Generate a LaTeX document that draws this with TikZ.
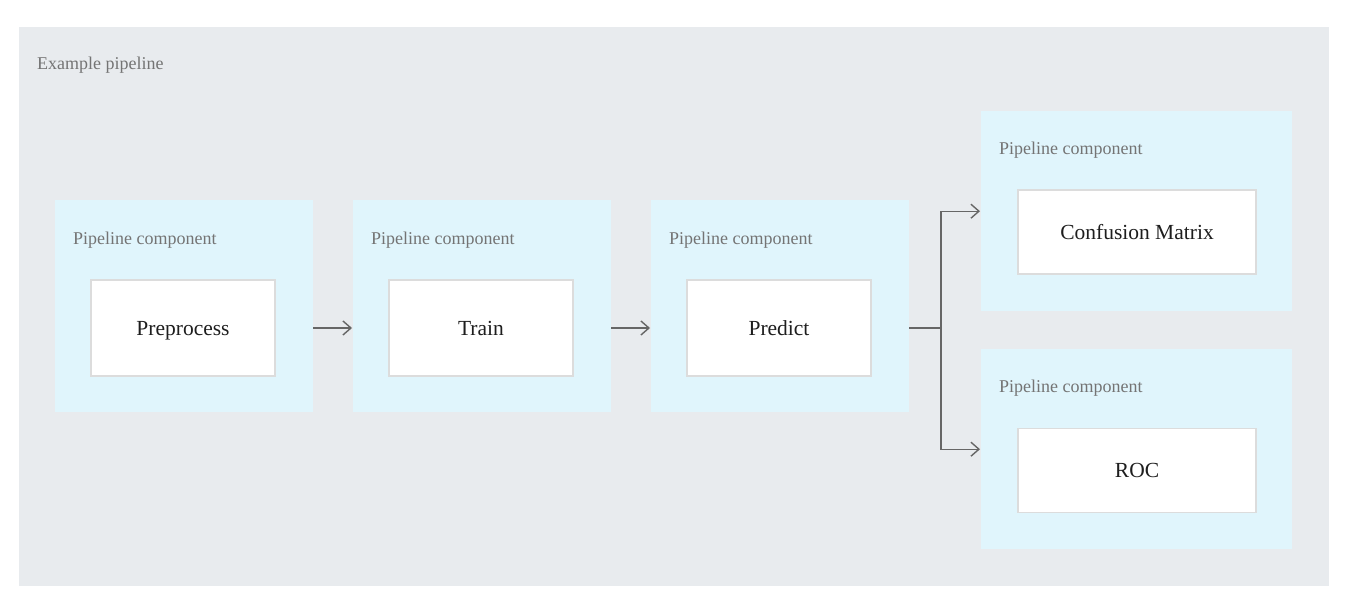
\documentclass[tikz,border=0pt]{standalone}
\usepackage{fontspec}
\setmainfont{Liberation Serif}
\usetikzlibrary{positioning,arrows.meta}
\definecolor{pipebg}{HTML}{E8EBEE}
\definecolor{compbg}{HTML}{E0F5FC}
\definecolor{stepedge}{HTML}{DCDCDC}
\definecolor{labelgray}{HTML}{747474}
\definecolor{flowgray}{HTML}{666666}
\definecolor{steptext}{HTML}{1E1E1E}

\begin{document}
\begin{tikzpicture}[x=1pt, y=-1pt,
        flow/.style={draw=flowgray, line width=1.4pt},
        arr/.style={flow, -{Straight Barb[length=8pt,width=14pt]}, shorten >=1pt}]
      \tikzstyle{frame} = [fill=pipebg, inner sep=0pt, anchor=north west]
      \tikzstyle{comp} = [fill=compbg, inner sep=0pt, anchor=north west,
                          minimum width=258pt, minimum height=212pt]
      \tikzstyle{wide comp} = [comp, minimum width=311pt, minimum height=200pt]
      \tikzstyle{tag} = [font=\fontsize{18}{20}\selectfont, text=labelgray,
                         inner sep=0pt, anchor=base west]
      \tikzstyle{stepbox} = [fill=white, draw=stepedge, line width=1.2pt,
                             font=\fontsize{21.5}{24}\selectfont, text=steptext,
                             text height=14.2pt, text depth=0pt,
                             minimum width=184pt, minimum height=96pt]
      \tikzstyle{wide stepbox} = [stepbox, minimum width=238pt, minimum height=84pt]
      \useasboundingbox (0,0) rectangle (1348,602);
      \node (pipeline) [frame, minimum width=1310pt, minimum height=559pt] at (19,27) {};
      \node (title) [tag] at (37,70) {Example pipeline};
      \node (comp1) [comp] at (55,200) {};
      \node (comp2) [comp] at (353,200) {};
      \node (comp3) [comp] at (651,200) {};
      \node (comp4) [wide comp] at (981,111) {};
      \node (comp5) [wide comp] at (981,349) {};
      \node (tag1) [tag] at (73,244) {Pipeline component};
      \node (tag2) [tag] at (371,244) {Pipeline component};
      \node (tag3) [tag] at (669,244) {Pipeline component};
      \node (tag4) [tag] at (999,154) {Pipeline component};
      \node (tag5) [tag] at (999,392) {Pipeline component};
      \node (prep) [stepbox] at (183,328) {Preprocess};
      \node (train) [stepbox] at (481,328) {Train};
      \node (predict) [stepbox] at (779,328) {Predict};
      \node (confusion) [wide stepbox] at (1137,232) {Confusion Matrix};
      \node (roc) [wide stepbox] at (1137,470.5) {ROC};
      \coordinate (split) at (941,328);
      \draw[arr] (prep -| comp1.east) -- (train -| comp2.west);
      \draw[arr] (train -| comp2.east) -- (predict -| comp3.west);
      \draw[flow] (predict -| comp3.east) -- (split);
      \draw[arr] (split) |- (comp4.west);
      \draw[arr] (split) |- (comp5.west);
    \end{tikzpicture}
\end{document}
